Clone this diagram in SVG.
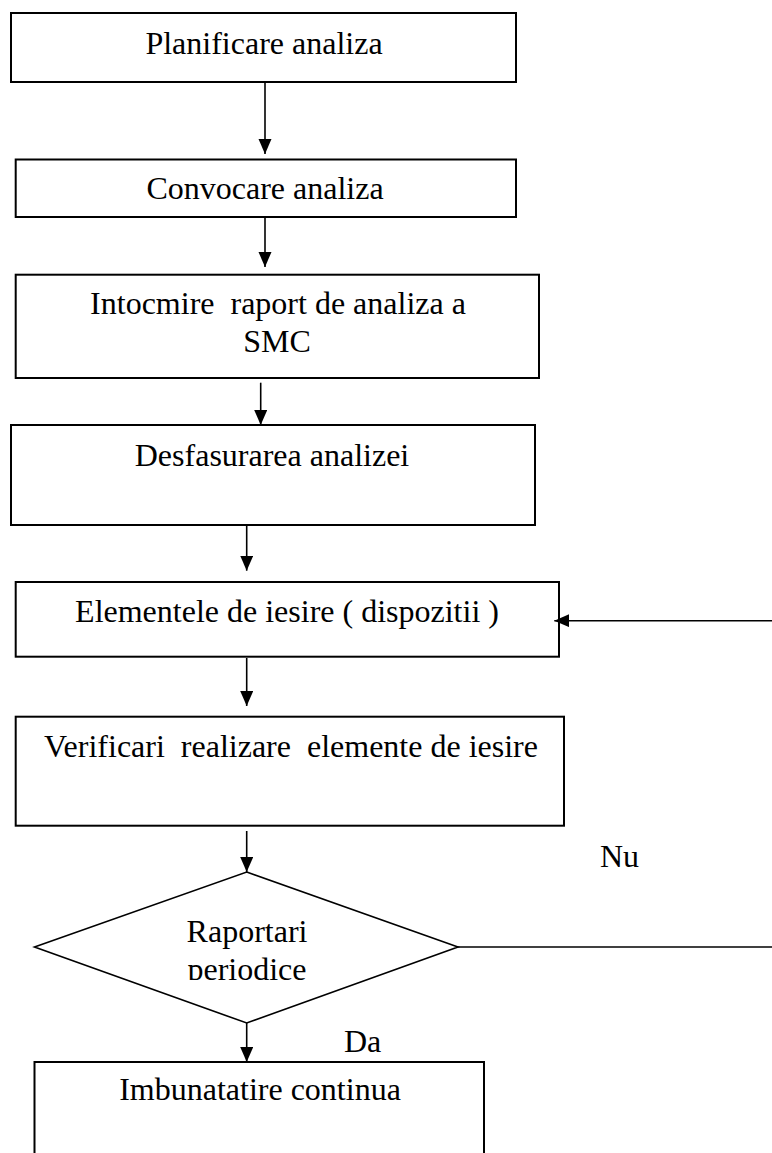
<svg xmlns="http://www.w3.org/2000/svg" width="772" height="1153" viewBox="0 0 772 1153">
<style>
.box{fill:#fff;stroke:#000;stroke-width:2}
.dia{fill:#fff;stroke:#000;stroke-width:1.6}
.t{font-family:"Liberation Serif","Times New Roman",serif;font-size:32px;fill:#000;white-space:pre}
.c{text-anchor:middle}
.ln{stroke:#000;stroke-width:1.6;fill:none}
</style>
<defs>
<marker id="ah" markerUnits="userSpaceOnUse" markerWidth="16" markerHeight="14" refX="15" refY="6.5" orient="auto">
<path d="M0,0 L15,6.5 L0,13 z" fill="#000"/>
</marker>
<clipPath id="dclip"><rect x="0" y="880" width="772" height="100"/></clipPath>
</defs>
<rect width="772" height="1153" fill="#fff"/>
<g id="n1"><rect class="box" x="11" y="13" width="505" height="69"/><text class="t c" x="264" y="54">Planificare analiza</text></g>
<g id="n2"><rect class="box" x="15.7" y="159.5" width="500.3" height="57.5"/><text class="t c" x="265" y="199">Convocare analiza</text></g>
<g id="n3"><rect class="box" x="15.7" y="274.7" width="523.3" height="103.3"/><text class="t c" x="278" y="314">Intocmire  raport de analiza a</text><text class="t c" x="277" y="352">SMC</text></g>
<g id="n4"><rect class="box" x="11" y="425" width="524" height="100"/><text class="t c" x="272" y="466">Desfasurarea analizei</text></g>
<g id="n5"><rect class="box" x="15.7" y="582" width="543.3" height="74.7"/><text class="t c" x="287" y="622">Elementele de iesire ( dispozitii )</text></g>
<g id="n6"><rect class="box" x="15.7" y="716.7" width="548.3" height="109"/><text class="t c" x="291" y="757">Verificari  realizare  elemente de iesire</text></g>
<g id="n7"><polygon class="dia" points="246.7,872 458,947 246.7,1023 34.5,947"/><g clip-path="url(#dclip)"><text class="t c" x="247" y="942">Raportari</text><text class="t c" x="247" y="980">periodice</text></g></g>
<g id="n8"><rect class="box" x="34.5" y="1062" width="449.5" height="110"/><text class="t c" x="260" y="1100">Imbunatatire continua</text></g>
<g id="connectors">
<line class="ln" x1="265" y1="82" x2="265" y2="154" marker-end="url(#ah)"/>
<line class="ln" x1="265" y1="217" x2="265" y2="267" marker-end="url(#ah)"/>
<line class="ln" x1="260.7" y1="382.7" x2="260.7" y2="425" marker-end="url(#ah)"/>
<line class="ln" x1="246.7" y1="525" x2="246.7" y2="570.7" marker-end="url(#ah)"/>
<line class="ln" x1="246.7" y1="658" x2="246.7" y2="706" marker-end="url(#ah)"/>
<line class="ln" x1="246.7" y1="831" x2="246.7" y2="872" marker-end="url(#ah)"/>
<line class="ln" x1="246.7" y1="1023" x2="246.7" y2="1062" marker-end="url(#ah)"/>
<line class="ln" x1="458" y1="947" x2="772" y2="947"/>
<line class="ln" x1="772" y1="620.7" x2="554.3" y2="620.7" marker-end="url(#ah)"/>
<text class="t" x="600" y="867">Nu</text>
<text class="t" x="344" y="1052">Da</text>
</g>
</svg>
